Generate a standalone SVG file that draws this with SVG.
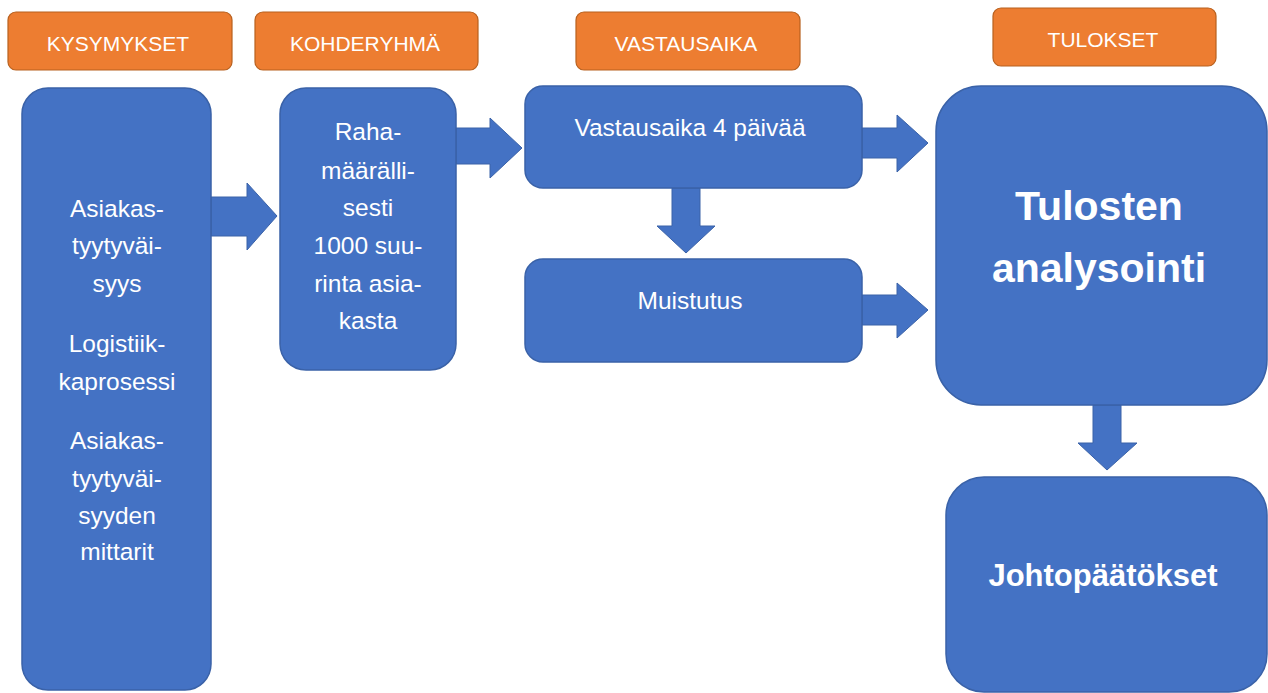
<svg xmlns="http://www.w3.org/2000/svg" width="1268" height="693" viewBox="0 0 1268 693">
<style>
.hdr{fill:#ED7D31;stroke:#B8611F;stroke-width:1.2}
.box{fill:#4472C4;stroke:#3A62A8;stroke-width:1.5}
.arr{fill:#4472C4;stroke:#3A62A8;stroke-width:1}
.ht{font-family:"Liberation Sans",Arial,sans-serif;font-size:21px;fill:#fff;text-anchor:middle}
.t{font-family:"Liberation Sans",Arial,sans-serif;font-size:24.5px;fill:#fff;text-anchor:middle}
.b{font-family:"Liberation Sans",Arial,sans-serif;font-weight:bold;fill:#fff;text-anchor:middle}
</style>
<rect width="1268" height="693" fill="#fff"/>
<g id="hdr-kysymykset"><rect class="hdr" x="8" y="12" width="224" height="58" rx="8"/><text class="ht" x="118" y="51">KYSYMYKSET</text></g>
<g id="hdr-kohderyhma"><rect class="hdr" x="255" y="12" width="223" height="58" rx="8"/><text class="ht" x="365" y="51">KOHDERYHMÄ</text></g>
<g id="hdr-vastausaika"><rect class="hdr" x="576" y="12" width="224" height="58" rx="8"/><text class="ht" x="686" y="51">VASTAUSAIKA</text></g>
<g id="hdr-tulokset"><rect class="hdr" x="993" y="8" width="223" height="58" rx="8"/><text class="ht" x="1103" y="47">TULOKSET</text></g>

<g id="connectors">
<path class="arr" d="M211,197 H247 V183 L277,216 L247,250 V236 H211 Z"/>
<path class="arr" d="M456,128 H490 V118 L522,148 L490,178 V164 H456 Z"/>
<path class="arr" d="M862,128 H897 V115 L928,143 L897,172 V158 H862 Z"/>
<path class="arr" d="M862,295 H897 V283 L928,310 L897,338 V325 H862 Z"/>
<path class="arr" d="M672,188 V226 H657 L686,253 L715,226 H700 V188 Z"/>
<path class="arr" d="M1093,405 V443 H1078 L1107,470 L1137,443 H1121 V405 Z"/>
</g>

<g id="node-kysymykset"><rect class="box" x="22" y="88" width="189" height="602" rx="26"/>
<text class="t" x="117" y="217">Asiakas-</text>
<text class="t" x="117" y="254">tyytyväi-</text>
<text class="t" x="117" y="292">syys</text>
<text class="t" x="117" y="352">Logistiik-</text>
<text class="t" x="117" y="390">kaprosessi</text>
<text class="t" x="117" y="449">Asiakas-</text>
<text class="t" x="117" y="487">tyytyväi-</text>
<text class="t" x="117" y="524">syyden</text>
<text class="t" x="117" y="560">mittarit</text>
</g>
<g id="node-kohderyhma"><rect class="box" x="280" y="88" width="176" height="282" rx="26"/>
<text class="t" x="368" y="140">Raha-</text>
<text class="t" x="368" y="179">määrälli-</text>
<text class="t" x="368" y="216">sesti</text>
<text class="t" x="368" y="254">1000 suu-</text>
<text class="t" x="368" y="292">rinta asia-</text>
<text class="t" x="368" y="329">kasta</text>
</g>
<g id="node-vastausaika"><rect class="box" x="525" y="86" width="337" height="102" rx="18"/><text class="t" x="690" y="136">Vastausaika 4 päivää</text></g>
<g id="node-muistutus"><rect class="box" x="525" y="259" width="337" height="103" rx="18"/><text class="t" x="690" y="309">Muistutus</text></g>
<g id="node-tulosten"><rect class="box" x="936" y="86" width="331" height="319" rx="45"/>
<text class="b" x="1099" y="220" font-size="41">Tulosten</text>
<text class="b" x="1099" y="282" font-size="41">analysointi</text>
</g>
<g id="node-johtopaatokset"><rect class="box" x="946" y="477" width="321" height="215" rx="38"/><text class="b" x="1103" y="586" font-size="31">Johtopäätökset</text></g>
</svg>
